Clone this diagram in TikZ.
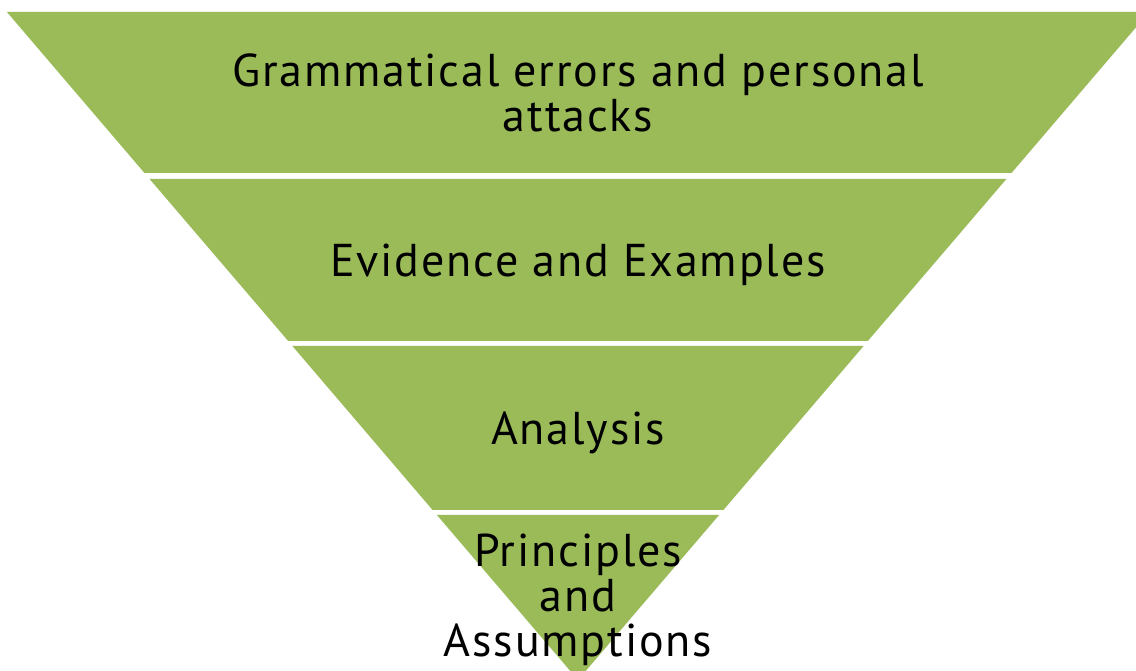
\documentclass[tikz,border=0pt]{standalone}
\usepackage{fontspec}
\setmainfont{PT Sans}[LetterSpace=4]
\usepackage{xcolor}
\usepackage{tikz}
\definecolor{olive}{HTML}{9BBB59}
\tikzset{
  band/.style={fill=olive},
  bandtext/.style={align=center, font=\fontsize{46}{45}\selectfont, text=black}
}

\begin{document}
\begin{tikzpicture}[x=1pt, y=1pt]
        \clip (0, 0) rectangle (1136, 670);
        \fill[white] (0, 0) rectangle (1136, 670);

        \fill[band] (6.9, 658) -- (1149.1, 658) -- (1011.5, 497) -- (144.5, 497) -- cycle;
        \fill[band] (149.6, 491) -- (1006.4, 491) -- (867.8, 329) -- (288.2, 329) -- cycle;
        \fill[band] (292.4, 324) -- (863.6, 324) -- (723.4, 160) -- (432.6, 160) -- cycle;
        \fill[band] (436.9, 155) -- (719.1, 155) -- (578, -10) -- cycle;

        \node[bandtext] (grammar) at (578, 577) {Grammatical errors and personal\\attacks};
        \node[bandtext] (evidence) at (578, 405) {Evidence and Examples};
        \node[bandtext] (analysis) at (578, 237) {Analysis};
        \node[bandtext] (principles) at (578, 70) {Principles\\and\\Assumptions};
    \end{tikzpicture}
\end{document}
